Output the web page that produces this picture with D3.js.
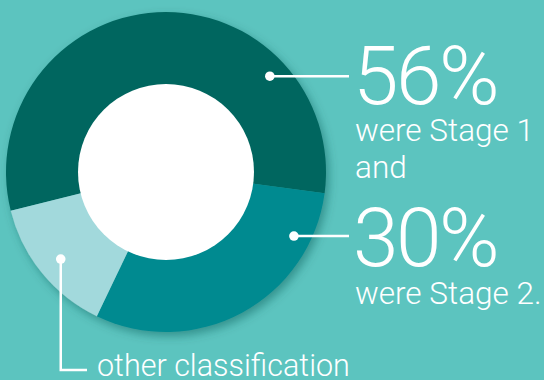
<!DOCTYPE html>
<html>
<head>
<meta charset="utf-8">
<script src="https://cdn.jsdelivr.net/npm/d3@7"></script>
<style>
  html, body { margin: 0; padding: 0; background: #5cc4bf; overflow: hidden; }
  svg { display: block; }
  text { font-family: Roboto, "Open Sans", "Liberation Sans", sans-serif; font-weight: 300; fill: #ffffff; }
</style>
</head>
<body>
<svg id="chart" width="544" height="380"></svg>
<script>
// Share of cases by stage
const categories = ["Stage 1", "Stage 2", "other classification"];
const shares = [56, 30, 14];
const sliceColors = ["#03665f", "#008a90", "#a2d9dc"];
const headlineLabels = ["56%", "30%"];
const captionLabels = [["were Stage 1", "and"], ["were Stage 2."]];
const otherLabel = "other classification";

const W = 544, H = 380;
const cx = 166, cy = 172, outerR = 160, innerR = 88;

const svg = d3.select("#chart");

svg.append("rect").attr("width", W).attr("height", H).attr("fill", "#5cc4bf");

const defs = svg.append("defs");
const shadow = defs.append("filter").attr("id", "ringShadow")
  .attr("x", "-20%").attr("y", "-20%").attr("width", "140%").attr("height", "140%");
shadow.append("feDropShadow")
  .attr("dx", 3).attr("dy", 4).attr("stdDeviation", 5)
  .attr("flood-color", "#0b5450").attr("flood-opacity", 0.45);

const start = -104 * Math.PI / 180;
const pie = d3.pie().sort(null).value(d => d)
  .startAngle(start).endAngle(start + 2 * Math.PI);
const arcs = pie(shares);

const arc = d3.arc().innerRadius(0).outerRadius(outerR);

const g = svg.append("g").attr("transform", `translate(${cx},${cy})`);

const ring = g.append("g").attr("filter", "url(#ringShadow)");
ring.selectAll("path.slice")
  .data(arcs)
  .join("path")
  .attr("class", "slice")
  .attr("d", arc)
  .attr("fill", (d, i) => sliceColors[i]);

g.append("circle").attr("r", innerR).attr("fill", "#ffffff");

// Leader dots sit inside each slice's band of the ring
const bandRadius = d3.scaleLinear().domain([0, 1]).range([innerR, outerR]);
const polar = (deg, r) => {
  const a = deg * Math.PI / 180;
  return [Math.sin(a) * r, -Math.cos(a) * r];
};

const dotPos = [
  polar(47.3, bandRadius(0.74)),
  polar(116.6, bandRadius(0.765)),
  polar(230.4, bandRadius(0.675))
];

const lineX = 349;
const textX = 353;

// Stage 1 and Stage 2 leaders: horizontal lines out to the headline figures
[0, 1].forEach(i => {
  const [dx, dy] = dotPos[i];
  g.append("line")
    .attr("x1", dx).attr("y1", dy)
    .attr("x2", lineX - cx).attr("y2", dy)
    .attr("stroke", "#fff").attr("stroke-width", 2.5);
  g.append("circle").attr("cx", dx).attr("cy", dy).attr("r", 4.8).attr("fill", "#fff");
});

// Other classification leader: down then right
{
  const [dx, dy] = dotPos[2];
  g.append("path")
    .attr("d", `M${dx},${dy} V${370 - cy} H${87 - cx}`)
    .attr("fill", "none").attr("stroke", "#fff").attr("stroke-width", 2.5);
  g.append("circle").attr("cx", dx).attr("cy", dy).attr("r", 4.8).attr("fill", "#fff");
}

// Headline figures and captions
const headBase = [104, 266];
const capBase = [[141, 178], [304]];

headlineLabels.forEach((t, i) => {
  svg.append("text").attr("x", textX).attr("y", headBase[i])
    .attr("font-size", 82).attr("letter-spacing", -2.5).text(t);
  captionLabels[i].forEach((c, j) => {
    svg.append("text").attr("x", textX + 2).attr("y", capBase[i][j])
      .attr("font-size", 31.5).text(c);
  });
});

svg.append("text").attr("x", 97).attr("y", 376).attr("font-size", 30.5).text(otherLabel);
</script>
</body>
</html>
